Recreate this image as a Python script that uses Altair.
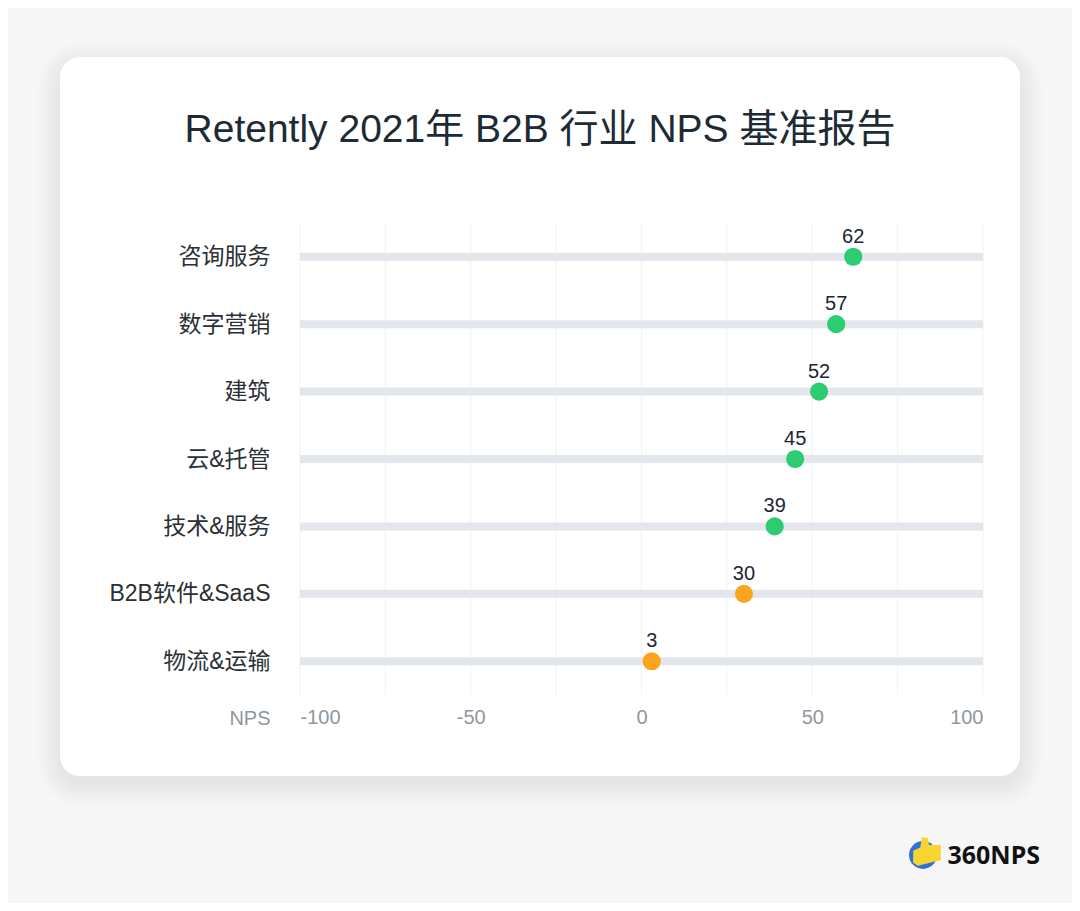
import altair as alt
import pandas as pd

# ---- data ----
industries = ["咨询服务", "数字营销", "建筑", "云&托管", "技术&服务", "B2B软件&SaaS", "物流&运输"]
nps_scores = [62, 57, 52, 45, 39, 30, 3]
tiers = ["优秀", "优秀", "优秀", "优秀", "优秀", "良好", "良好"]
tick_labels = [-100, -50, 0, 50, 100]
grid_values = [-100, -75, -50, -25, 0, 25, 50, 75, 100]
track_range = [-100, 100]
title_text = "Retently 2021年 B2B 行业 NPS 基准报告"
logo_name = "360NPS"

FONT = "Liberation Sans, Noto Sans CJK SC, sans-serif"
GREEN = "#2dcc70"
ORANGE = "#fba51d"

df = pd.DataFrame({
    "industry": industries,
    "nps": nps_scores,
    "tier": tiers,
    "start": [track_range[0]] * len(industries),
    "end": [track_range[1]] * len(industries),
})
grid_df = pd.DataFrame({"g": grid_values})
one = pd.DataFrame({"k": [0]})

x_scale = alt.Scale(domain=track_range, nice=False, zero=False)
y_enc = alt.Y("industry:N", sort=industries,
              scale=alt.Scale(type="point", padding=0.5),
              axis=alt.Axis(title=None, domain=False, ticks=False, grid=False,
                            labelPadding=30, labelFontSize=23, labelFont=FONT,
                            labelColor="#2b3035", zindex=1))

# card shadow layers (decoration)
shadows = []
for i in range(8):
    e = 1 + i * 3
    shadows.append(
        alt.Chart(one).mark_rect(color="#000000", opacity=0.008, cornerRadius=20 + e).encode(
            x=alt.value(-240 - e), x2=alt.value(720 + e),
            y=alt.value(-166 - e + 8), y2=alt.value(553 + e + 8))
    )

card = alt.Chart(one).mark_rect(color="#ffffff", cornerRadius=20).encode(
    x=alt.value(-240), x2=alt.value(720), y=alt.value(-166), y2=alt.value(553))

title = alt.Chart(one).mark_text(text=title_text, fontSize=39, font=FONT,
                                 color="#1c2b36", align="center",
                                 baseline="middle").encode(
    x=alt.value(240), y=alt.value(-93))

grid = alt.Chart(grid_df).mark_rule(color="#f0f2f4", strokeWidth=1).encode(
    x=alt.X("g:Q", scale=x_scale))

track = alt.Chart(df).mark_rule(color="#e3e7eb", strokeWidth=8, strokeCap="butt").encode(
    x=alt.X("start:Q", scale=x_scale,
            axis=alt.Axis(values=tick_labels, grid=False, domain=False, ticks=False,
                          labelExpr="datum.value + ''",
                          labelFlush=True, labelPadding=12, labelFontSize=20,
                          labelFont=FONT, labelColor="#8e979f",
                          title="NPS", titleX=-30, titleY=23, titleAlign="right",
                          titleBaseline="middle", titleFontSize=20, titleFont=FONT,
                          titleFontWeight="normal", titleColor="#8e979f", zindex=1)),
    x2="end:Q",
    y=y_enc,
)

dots = alt.Chart(df).mark_circle(size=330, opacity=1).encode(
    x=alt.X("nps:Q", scale=x_scale),
    y=alt.Y("industry:N", sort=industries),
    color=alt.Color("tier:N", scale=alt.Scale(domain=["优秀", "良好"], range=[GREEN, ORANGE]),
                    legend=None),
)

values = alt.Chart(df).mark_text(dy=-20, fontSize=20, font=FONT, color="#1c2630",
                                 baseline="middle").encode(
    x=alt.X("nps:Q", scale=x_scale),
    y=alt.Y("industry:N", sort=industries),
    text="nps:Q",
)

# logo (decoration)
logo_circle = alt.Chart(one).mark_point(shape="circle", filled=True, size=780,
                                        color="#2f6fd8", opacity=1).encode(
    x=alt.value(623), y=alt.value(632))
logo_thumb = alt.Chart(one).mark_point(
    shape="M -0.75 -0.15 L -0.3 -0.35 L -0.2 -1.0 L 0.2 -0.95 L 0.25 -0.5 L 1.0 -0.5 L 1.0 0.45 L -0.45 0.8 L -0.75 0.6 Z",
    filled=True, size=1000, color="#f8d431", opacity=1).encode(
    x=alt.value(625), y=alt.value(630))
logo_text = alt.Chart(one).mark_text(text=logo_name, fontSize=25, fontWeight="bold",
                                     font="Noto Sans", color="#111111", align="right",
                                     baseline="middle").encode(
    x=alt.value(740), y=alt.value(633))

chart = alt.layer(
    *shadows, card, title, grid, track, dots, values, logo_circle, logo_thumb, logo_text
).properties(
    width=683, height=472,
    padding={"left": 292, "top": 215, "right": 89, "bottom": 208},
    autosize=alt.AutoSizeParams(type="none"),
    background="#f6f6f6",
).configure_view(stroke=None)

chart.save("out.html", embed_options={"renderer": "svg", "actions": False})
